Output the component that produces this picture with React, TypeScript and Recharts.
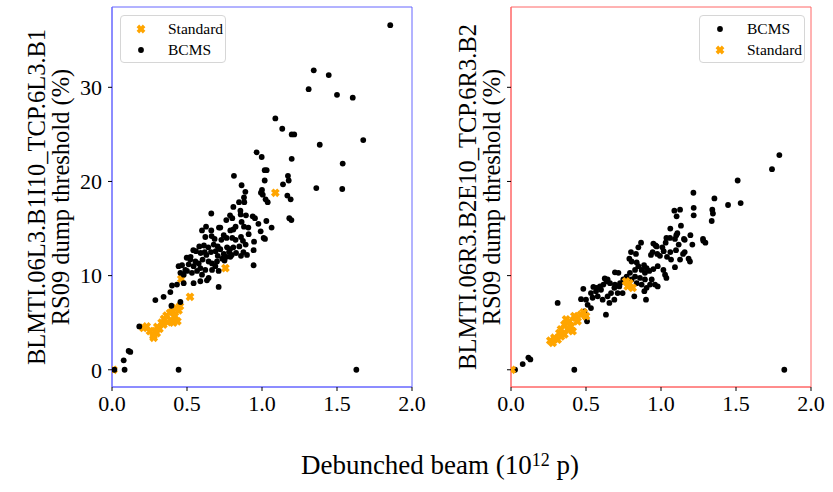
import React from 'react';
import { ScatterChart, Scatter, XAxis, YAxis, ReferenceArea, Label } from 'recharts';

// [beam (1e12 p), threshold (%)]
const leftStandard: [number, number][] = [
  [0.01, 0], [0.209, 4.45], [0.231, 4.6], [0.253, 4.1], [0.276, 3.6], [0.298, 3.9], [0.316, 4.35],
  [0.331, 5.0], [0.347, 5.4], [0.364, 5.75], [0.387, 6.05], [0.404, 6.2], [0.427, 6.55], [0.453, 6.75],
  [0.444, 6.3], [0.42, 5.7], [0.393, 5.25], [0.371, 5.05], [0.409, 5.0], [0.436, 5.15], [0.342, 4.8],
  [0.302, 4.55], [0.287, 4.1], [0.278, 3.4], [0.52, 7.75], [0.462, 9.65], [0.756, 10.8], [1.089, 18.8],
];

const leftBcms: [number, number][] = [
  [1.855, 36.6], [1.345, 31.8], [1.445, 31.3], [1.311, 29.8], [1.5, 29.2], [1.605, 28.9], [1.089, 26.7],
  [1.135, 25.6], [1.198, 25.0], [1.215, 25.0], [1.675, 24.4], [1.385, 23.9], [0.964, 23.1], [0.998, 22.6],
  [1.198, 22.4], [1.538, 21.9], [0.813, 20.6], [1.018, 21.2], [1.031, 21.2], [1.173, 20.6], [1.018, 20.1],
  [1.178, 20.1], [0.864, 19.6], [1.14, 19.7], [0.889, 18.9], [1.0, 19.1], [0.993, 18.8], [1.005, 18.6],
  [1.362, 19.3], [1.535, 19.2], [0.88, 18.3], [1.169, 18.5], [1.191, 18.1], [0.882, 17.8], [0.847, 17.8],
  [1.024, 18.1], [1.038, 17.8], [0.809, 17.3], [0.662, 16.6], [0.856, 16.9], [0.858, 16.5], [0.787, 16.4],
  [0.893, 16.4], [0.938, 16.3], [0.953, 16.1], [1.182, 16.1], [1.196, 15.9], [0.762, 15.9], [0.802, 16.1],
  [0.864, 15.7], [0.976, 15.5], [1.029, 15.8], [1.064, 15.1], [0.991, 14.7], [0.722, 15.1], [0.824, 15.2],
  [0.809, 14.9], [0.789, 14.8], [0.88, 15.2], [0.909, 15.1], [0.911, 14.4], [1.011, 14.0], [1.02, 13.9],
  [0.947, 13.6], [0.944, 12.7], [0.6, 14.8], [0.627, 15.2], [0.662, 14.8], [0.713, 15.1], [0.622, 14.1],
  [0.664, 14.2], [0.684, 13.9], [0.745, 14.3], [0.729, 13.8], [0.764, 14.0], [0.802, 14.0], [0.824, 13.8],
  [0.86, 14.1], [0.873, 13.7], [0.891, 13.3], [0.582, 13.1], [0.613, 13.2], [0.642, 13.0], [0.678, 13.3],
  [0.705, 13.1], [0.722, 12.8], [0.767, 13.0], [0.787, 12.8], [0.809, 13.0], [0.849, 13.1], [0.876, 12.5],
  [0.542, 12.7], [0.591, 12.4], [0.629, 12.2], [0.66, 12.5], [0.691, 12.6], [0.705, 12.1], [0.745, 12.3],
  [0.764, 12.0], [0.798, 12.2], [0.827, 12.4], [0.86, 12.1], [0.498, 11.9], [0.524, 12.0], [0.56, 12.6],
  [0.618, 12.5], [0.735, 11.8], [0.78, 12.5], [0.789, 12.0], [0.9, 12.2], [0.944, 11.1], [0.522, 11.7],
  [0.556, 11.5], [0.511, 11.2], [0.544, 11.0], [0.578, 11.3], [0.604, 11.7], [0.644, 11.5], [0.667, 11.3],
  [0.7, 11.5], [0.75, 11.6], [0.589, 10.8], [0.622, 10.6], [0.667, 10.6], [0.689, 11.0], [0.711, 10.5],
  [0.444, 11.0], [0.467, 11.1], [0.489, 10.6], [0.456, 10.3], [0.478, 10.1], [0.5, 10.5], [0.533, 10.3],
  [0.567, 10.5], [0.6, 10.1], [0.644, 9.75], [0.633, 9.5], [0.589, 9.4], [0.544, 9.2], [0.478, 9.2],
  [0.433, 9.05], [0.4, 8.95], [0.389, 8.25], [0.344, 7.75], [0.289, 7.4], [0.396, 6.8], [0.456, 7.2],
  [0.711, 8.8], [0.182, 4.6], [0.111, 2.0], [0.122, 1.9], [0.078, 1.0], [0.084, 0], [0.444, 0],
  [1.629, 0], [0.016, 0],
];

const rightBcms: [number, number][] = [
  [1.789, 22.8], [1.74, 21.3], [1.511, 20.1], [1.216, 18.8], [1.356, 18.2], [1.447, 17.5], [1.531, 17.7],
  [1.127, 17.0], [1.218, 17.2], [1.218, 16.4], [1.342, 17.0], [1.346, 16.6], [1.338, 15.8], [1.133, 15.3],
  [1.196, 14.3], [1.153, 13.9], [1.28, 13.9], [1.089, 16.9], [1.104, 16.3], [1.062, 15.0], [1.109, 14.5],
  [1.102, 14.3], [1.282, 13.7], [1.296, 13.5], [0.867, 13.5], [1.036, 14.0], [1.06, 14.0], [1.093, 13.9],
  [1.158, 13.8], [0.849, 13.0], [0.949, 13.4], [0.964, 13.2], [1.009, 13.0], [1.018, 12.6], [0.944, 12.5],
  [1.062, 12.5], [1.1, 12.7], [1.118, 13.3], [1.158, 12.5], [1.147, 12.3], [1.209, 13.3], [0.8, 12.5],
  [0.833, 12.3], [0.933, 12.2], [0.975, 12.3], [0.993, 12.1], [1.04, 12.0], [1.184, 11.8], [1.193, 11.5],
  [1.127, 11.7], [1.067, 11.7], [0.789, 11.8], [0.804, 11.5], [0.838, 11.4], [0.978, 11.0], [0.949, 10.7],
  [0.887, 11.1], [0.904, 10.8], [0.922, 10.5], [0.893, 10.3], [0.871, 10.6], [0.849, 11.0], [0.827, 10.6],
  [1.016, 10.6], [1.027, 10.1], [1.036, 9.75], [1.093, 10.9], [0.693, 10.35], [0.716, 10.3], [0.793, 10.3],
  [0.827, 9.9], [0.86, 9.75], [0.893, 9.6], [0.938, 9.6], [0.96, 9.05], [0.927, 9.05], [0.904, 8.7],
  [0.871, 9.05], [0.838, 9.2], [0.804, 9.6], [0.771, 9.9], [0.749, 9.6], [0.727, 9.2], [0.693, 9.05],
  [0.66, 9.2], [0.638, 9.4], [0.616, 9.05], [0.593, 8.85], [0.571, 8.7], [0.549, 8.8], [0.482, 8.6],
  [0.644, 9.6], [0.625, 9.7], [0.6, 8.5], [0.567, 8.35], [0.533, 8.15], [0.544, 7.65], [0.578, 7.8],
  [0.611, 7.45], [0.644, 7.8], [0.667, 8.15], [0.689, 8.7], [0.711, 8.15], [0.689, 7.45], [0.656, 7.1],
  [0.633, 5.85], [0.722, 8.85], [0.744, 8.15], [0.467, 7.5], [0.5, 7.45], [0.511, 6.9], [0.533, 6.55],
  [0.489, 6.2], [0.5, 5.5], [0.507, 5.15], [0.311, 7.1], [0.822, 7.8], [0.9, 7.45], [0.889, 8.35],
  [0.978, 8.85], [1.031, 13.5], [0.971, 13.1], [0.078, 0.6], [0.116, 1.3], [0.129, 1.1], [0.027, 0],
  [0.422, 0], [1.822, 0],
];

const rightStandard: [number, number][] = [
  [0.005, 0], [0.262, 3.1], [0.278, 2.85], [0.289, 3.4], [0.311, 3.2], [0.322, 3.9], [0.333, 4.3],
  [0.356, 4.8], [0.367, 5.35], [0.389, 5.15], [0.4, 4.6], [0.422, 5.7], [0.433, 5.5], [0.444, 5.15],
  [0.467, 5.85], [0.484, 6.1], [0.5, 5.7], [0.411, 4.1], [0.378, 4.3], [0.356, 3.75], [0.333, 3.55],
  [0.767, 9.4], [0.789, 9.2], [0.811, 8.7], [0.778, 8.85],
];

const xTicks = [0, 0.5, 1, 1.5, 2];
const yTicks = [0, 10, 20, 30];
const yDomain = [-1.83, 38.53];

const FONT = '"Liberation Serif", "Times New Roman", serif';
const ORANGE = '#ffa500';

const toPoints = (arr: [number, number][]) => arr.map(([x, y]) => ({ x, y }));

const xPoly = (cx: number, cy: number, a: number, t: number) => {
  const base = [
    [t, a], [t, t], [a, t], [a, -t], [t, -t], [t, -a],
    [-t, -a], [-t, -t], [-a, -t], [-a, t], [-t, t], [-t, a],
  ];
  const s = Math.SQRT1_2;
  return base.map(([x, y]) => `${cx + (x - y) * s},${cy + (x + y) * s}`).join(' ');
};

const DotShape = (props: any) => <circle cx={props.cx} cy={props.cy} r={2.9} fill="#000" />;
const XShape = (props: any) => <polygon points={xPoly(props.cx, props.cy, 4.4, 1.8)} fill={ORANGE} />;

const LegendBox = ({ left, order }: { left: number; order: string[] }) => (
  <div
    style={{
      position: 'absolute', left, top: 15, width: 104, height: 46,
      border: '1px solid #d6d6d6', borderRadius: 4, background: 'rgba(255,255,255,0.8)',
      fontFamily: FONT, fontSize: 15.5, color: '#000',
    }}
  >
    {order.map((name, i) => (
      <div key={name} style={{ position: 'absolute', left: 0, top: 3 + i * 21, height: 20, width: 104 }}>
        <svg width={40} height={20} style={{ position: 'absolute', left: 0, top: 0 }}>
          {name === 'BCMS'
            ? <circle cx={20} cy={10} r={2.9} fill="#000" />
            : <polygon points={xPoly(20, 10, 4.4, 1.8)} fill={ORANGE} />}
        </svg>
        <span style={{ position: 'absolute', left: 47, top: 1, lineHeight: '18px' }}>{name}</span>
      </div>
    ))}
  </div>
);

const yLabel = (l1: string, l2: string, x1: number, x2: number) => () => (
  <g fontFamily={FONT} fontSize={24.5} fill="#000">
    <text x={x1} y={197} transform={`rotate(-90, ${x1}, 197)`} textAnchor="middle">{l1}</text>
    <text x={x2} y={197} transform={`rotate(-90, ${x2}, 197)`} textAnchor="middle">{l2}</text>
  </g>
);

const Panel = ({ left, width, axisWidth, color, showY, label, series }: any) => (
  <div style={{ position: 'absolute', left, top: 0 }}>
    <ScatterChart width={width} height={420} margin={{ top: 7, right: width - axisWidth - 300, bottom: 0, left: 0 }}>
      <XAxis
        type="number" dataKey="x" domain={[0, 2]} ticks={xTicks} interval={0} allowDataOverflow
        height={33} tickSize={4} tickMargin={4} axisLine={{ stroke: color }}
        tickLine={{ stroke: '#000' }} tickFormatter={(v: number) => v.toFixed(1)}
        tick={{ fontSize: 22, fill: '#000', fontFamily: FONT }}
      />
      <YAxis
        type="number" dataKey="y" domain={yDomain} ticks={yTicks} interval={0} allowDataOverflow
        width={axisWidth} tickSize={4} tickMargin={6} axisLine={{ stroke: color }}
        tickLine={{ stroke: '#000' }} tickFormatter={(v: number) => (showY ? String(v) : '')}
        tick={{ fontSize: 22, fill: '#000', fontFamily: FONT }}
      >
        <Label content={label} />
      </YAxis>
      {series.map((s: any) => (
        <Scatter
          key={s.name} name={s.name} data={toPoints(s.data)} isAnimationActive={false}
          shape={s.name === 'BCMS' ? DotShape : XShape}
        />
      ))}
      <ReferenceArea x1={0} x2={2} y1={yDomain[0]} y2={yDomain[1]} fill="none" stroke={color} strokeWidth={1} ifOverflow="visible" />
    </ScatterChart>
  </div>
);

export default function App() {
  return (
    <div style={{ position: 'absolute', left: 0, top: 0, width: 833, height: 492, background: '#fff' }}>
      <Panel
        left={0} width={440} axisWidth={112} color="#6666ff" showY
        label={yLabel('BLMTI.06L3.B1I10_TCP.6L3.B1', 'RS09 dump threshold (%)', 45, 69)}
        series={[{ name: 'Standard', data: leftStandard }, { name: 'BCMS', data: leftBcms }]}
      />
      <Panel
        left={420} width={413} axisWidth={91} color="#ff6666" showY={false}
        label={yLabel('BLMTI.06R3.B2E10_TCP.6R3.B2', 'RS09 dump threshold (%)', 56, 80)}
        series={[{ name: 'BCMS', data: rightBcms }, { name: 'Standard', data: rightStandard }]}
      />
      <LegendBox left={120} order={['Standard', 'BCMS']} />
      <LegendBox left={699} order={['BCMS', 'Standard']} />
      <div
        style={{
          position: 'absolute', left: 240, width: 400, top: 450, textAlign: 'center',
          fontFamily: FONT, fontSize: 27, color: '#000', lineHeight: '30px',
        }}
      >
        Debunched beam (10<sup style={{ fontSize: 18, verticalAlign: 'top', position: 'relative', top: -5 }}>12</sup> p)
      </div>
    </div>
  );
}
